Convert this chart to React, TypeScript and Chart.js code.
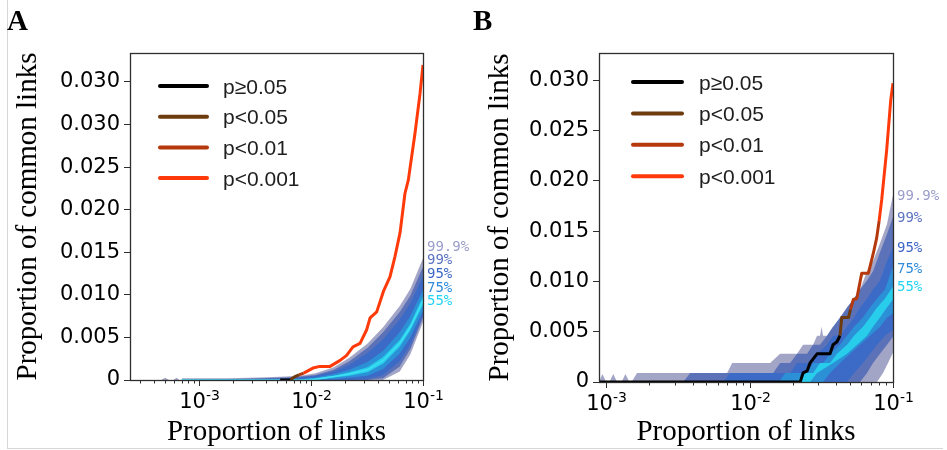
import React, { useEffect, useRef } from "react";
import { Chart, registerables } from "chart.js";

Chart.register(...registerables);

type Pt = [number, number];

// ---------------- Shared labels ----------------
const legendLabels = ["p\u22650.05", "p<0.05", "p<0.01", "p<0.001"];
const pctLabels = ["99.9%", "99%", "95%", "75%", "55%"];
const xTitle = "Proportion of links";
const yTitle = "Proportion of common links";

// ---------------- Panel A data ----------------
const aGridX = [0.0007, 0.0018, 0.0035, 0.006, 0.008, 0.011, 0.016, 0.022, 0.032, 0.044, 0.062, 0.077, 0.1];
const aUp999 = [0.0002, 0.0002, 0.0003, 0.0004, 0.0005, 0.0008, 0.0015, 0.0026, 0.0043, 0.0062, 0.0087, 0.0107, 0.0143];
const aLo999 = [0, 0, 0, 0, 0, 0, 0, 0, 0, 0, 0.001, 0.003, 0.0068];
const aUp99 = [0, 0.0001, 0.0002, 0.0003, 0.0004, 0.0006, 0.0012, 0.0022, 0.0038, 0.0056, 0.008, 0.0099, 0.0133];
const aLo99 = [0, 0, 0, 0, 0, 0, 0, 0, 0, 0.0002, 0.0016, 0.0036, 0.0073];
const aUp95 = [0, 0.0001, 0.0001, 0.0002, 0.0003, 0.0005, 0.001, 0.0018, 0.0032, 0.0048, 0.0071, 0.009, 0.0122];
const aLo95 = [0, 0, 0, 0, 0, 0, 0, 0, 0.0001, 0.0006, 0.0022, 0.0041, 0.0076];
const aUp75 = [0, 0, 0, 0.0001, 0.0001, 0.0003, 0.0007, 0.0012, 0.0021, 0.0034, 0.0056, 0.0075, 0.0106];
const aLo75 = [0, 0, 0, 0, 0, 0, 0.0001, 0.0003, 0.0005, 0.0013, 0.0031, 0.005, 0.0081];
const aUp55 = [0, 0, 0, 0, 0, 0.0002, 0.0005, 0.0009, 0.0015, 0.0027, 0.0047, 0.0066, 0.0098];
const aLo55 = [0, 0, 0, 0, 0, 0, 0.0003, 0.0005, 0.0009, 0.0019, 0.0039, 0.0058, 0.0088];
const aMedian = [0, 0, 0, 0, 0, 0.0001, 0.0004, 0.0007, 0.0012, 0.0023, 0.0043, 0.0062, 0.0093];
const aSpikes: Pt[] = [[0.00046, 0], [0.0005, 0.00025], [0.00054, 0], [0.00059, 0], [0.00063, 0.00025], [0.00067, 0]];

const aLineNS: Pt[] = [[0.0053, 0], [0.0065, 0]];
const aLine05: Pt[] = [[0.0065, 0], [0.0072, 0.0004], [0.0078, 0.0006]];
const aLine01: Pt[] = [[0.0078, 0.0006], [0.0086, 0.0008]];
const aLine001: Pt[] = [
  [0.0086, 0.0008], [0.0104, 0.0014], [0.012, 0.0016], [0.0148, 0.0016], [0.0182, 0.0023],
  [0.0208, 0.0029], [0.0237, 0.0039], [0.0274, 0.0043], [0.0314, 0.0059], [0.0337, 0.0073],
  [0.0386, 0.008], [0.0443, 0.0104], [0.0507, 0.0121], [0.0562, 0.0145], [0.0624, 0.0173],
  [0.069, 0.0219], [0.074, 0.0235], [0.0849, 0.029], [0.094, 0.0336], [0.1, 0.037],
];

const aYTicks = [0, 0.005, 0.01, 0.015, 0.02, 0.025, 0.03, 0.035];
const aYTickLabels = ["0", "0.005", "0.010", "0.015", "0.020", "0.025", "0.030", "0.030"];
const aPctY = [0.0156, 0.0141, 0.0124, 0.0108, 0.0092];

// ---------------- Panel B data ----------------
const bUp999: Pt[] = [
  [0.00089, 0], [0.00094, 0.0008], [0.001, 0], [0.00105, 0], [0.00112, 0.0008], [0.00119, 0],
  [0.00128, 0], [0.00136, 0.0008], [0.00145, 0], [0.0015, 0], [0.00164, 0.0009], [0.00697, 0.0009],
  [0.00755, 0.0019], [0.0139, 0.0019], [0.01632, 0.0028], [0.02143, 0.0028], [0.0236, 0.0037],
  [0.0277, 0.0037], [0.02954, 0.0046], [0.03098, 0.0046], [0.03175, 0.0055], [0.03252, 0.0046],
  [0.03467, 0.0046], [0.03818, 0.0055], [0.04268, 0.0055], [0.04779, 0.0074], [0.05349, 0.0083],
  [0.05889, 0.0092], [0.0659, 0.011], [0.07256, 0.012], [0.08117, 0.0138], [0.09082, 0.0157], [0.1, 0.0186],
];
const bLo999: Pt[] = [[0.00089, 0], [0.07737, 0], [0.08518, 0.0009], [0.0923, 0.0019], [0.1, 0.0029]];
const bUp99: Pt[] = [
  [0.00089, 0], [0.00344, 0], [0.00385, 0.0009], [0.01459, 0.0009], [0.01632, 0.0019], [0.01915, 0.0019],
  [0.02143, 0.0028], [0.02517, 0.0028], [0.0277, 0.0037], [0.03098, 0.0037], [0.03467, 0.0046],
  [0.03818, 0.0055], [0.04268, 0.0064], [0.04779, 0.0074], [0.05349, 0.0083], [0.05889, 0.0092],
  [0.0659, 0.0101], [0.07256, 0.011], [0.08117, 0.0129], [0.09082, 0.0147], [0.1, 0.0164],
];
const bLo99: Pt[] = [[0.00089, 0], [0.05889, 0], [0.0659, 0.0009], [0.07256, 0.0019], [0.08117, 0.0028], [0.09082, 0.0037], [0.1, 0.0045]];
const bUp95: Pt[] = [
  [0.00089, 0], [0.00654, 0], [0.00731, 0.0009], [0.01915, 0.0009], [0.02143, 0.0019], [0.02641, 0.0019],
  [0.02954, 0.0028], [0.03467, 0.0037], [0.03818, 0.0046], [0.04268, 0.0046], [0.04779, 0.0055],
  [0.05349, 0.0064], [0.05889, 0.0074], [0.0659, 0.0083], [0.07256, 0.0092], [0.08117, 0.0101],
  [0.09082, 0.012], [0.1, 0.0134],
];
const bLo95: Pt[] = [[0.00089, 0], [0.04779, 0], [0.05349, 0.0009], [0.06178, 0.0019], [0.06913, 0.0028], [0.07737, 0.0037], [0.08797, 0.0046], [0.1, 0.0052]];
const bUp75: Pt[] = [
  [0.00089, 0], [0.01605, 0], [0.01768, 0.0009], [0.02517, 0.0009], [0.0277, 0.0019], [0.03252, 0.0019],
  [0.03637, 0.0028], [0.04268, 0.0037], [0.04779, 0.0046], [0.05349, 0.0055], [0.06178, 0.0064],
  [0.06913, 0.0074], [0.07737, 0.0083], [0.08797, 0.0092], [0.1, 0.0115],
];
const bLo75: Pt[] = [
  [0.00089, 0], [0.03252, 0], [0.03637, 0.0009], [0.04268, 0.0019], [0.05015, 0.0028], [0.05889, 0.0037],
  [0.06913, 0.0046], [0.08117, 0.0055], [0.09082, 0.0064], [0.1, 0.0068],
];
const bUp55: Pt[] = [
  [0.00089, 0], [0.02143, 0], [0.0236, 0.0009], [0.0277, 0.0009], [0.03098, 0.0019], [0.03637, 0.0019],
  [0.04068, 0.0028], [0.04779, 0.0037], [0.05349, 0.0046], [0.06178, 0.0055], [0.06913, 0.0064],
  [0.07737, 0.0074], [0.08797, 0.0083], [0.1, 0.0095],
];
const bLo55: Pt[] = [
  [0.00089, 0], [0.02641, 0], [0.02954, 0.0009], [0.03818, 0.0019], [0.04779, 0.0028], [0.05613, 0.0037],
  [0.0659, 0.0046], [0.07256, 0.0055], [0.08117, 0.0064], [0.09082, 0.0074], [0.1, 0.0082],
];

const bLineNS: Pt[] = [
  [0.00089, 0], [0.02249, 0], [0.0236, 0.0009], [0.02517, 0.0011], [0.02641, 0.0019], [0.02954, 0.0028],
  [0.03637, 0.0028], [0.03818, 0.0037], [0.04068, 0.004], [0.04268, 0.0046],
];
const bLine05: Pt[] = [[0.04268, 0.0046], [0.0439, 0.0064], [0.0489, 0.0064], [0.0505, 0.0072]];
const bLine01: Pt[] = [
  [0.0505, 0.0072], [0.0529, 0.0082], [0.0559, 0.0083], [0.0605, 0.0108], [0.0673, 0.0108],
  [0.0729, 0.0128], [0.0769, 0.0143], [0.08, 0.016],
];
const bLine001: Pt[] = [[0.08, 0.016], [0.0834, 0.0181], [0.0904, 0.0231], [0.0964, 0.028], [0.1, 0.0297]];

const bYTicks = [0, 0.005, 0.01, 0.015, 0.02, 0.025, 0.03];
const bYTickLabels = ["0", "0.005", "0.010", "0.015", "0.020", "0.025", "0.030"];
const bPctY = [0.0185, 0.0163, 0.0133, 0.0112, 0.0094];

// ---------------- Styles ----------------
const BAND_COLORS = ["#a3a5c7", "#5b72b9", "#3b6bc7", "#2c90d7", "#27cdea"];
const PCT_COLORS = ["#9a9cca", "#5a72bf", "#3b65c4", "#2f8bd9", "#22d3f2"];
const LINE_COLORS = ["#000000", "#6e3b0e", "#b5390d", "#ff3a0a"];

const zipXY = (xs: number[], ys: number[]) => xs.map((x, i) => ({ x, y: ys[i] }));
const toXY = (pts: Pt[]) => pts.map(([x, y]) => ({ x, y }));

interface PanelCfg {
  left: number;
  width: number;
  xMin: number;
  yMax: number;
  yTicks: number[];
  yTickLabels: string[];
  bands: { upper: { x: number; y: number }[]; lower: { x: number; y: number }[] }[];
  spikes: { x: number; y: number }[] | null;
  median: { x: number; y: number }[] | null;
  lines: { x: number; y: number }[][];
  pctY: number[];
  padTop: number;
  padRight: number;
  yAxisWidth: number;
  xAxisHeight: number;
  yTitlePad: number;
  legend: { x0: number; x1: number; tx: number; y0: number; dy: number };
}

const panelA: PanelCfg = {
  left: 0,
  width: 470,
  xMin: 0.000242,
  yMax: 0.0384,
  yTicks: aYTicks,
  yTickLabels: aYTickLabels,
  bands: [
    { upper: zipXY(aGridX, aUp999), lower: zipXY(aGridX, aLo999) },
    { upper: zipXY(aGridX, aUp99), lower: zipXY(aGridX, aLo99) },
    { upper: zipXY(aGridX, aUp95), lower: zipXY(aGridX, aLo95) },
    { upper: zipXY(aGridX, aUp75), lower: zipXY(aGridX, aLo75) },
    { upper: zipXY(aGridX, aUp55), lower: zipXY(aGridX, aLo55) },
  ],
  spikes: toXY(aSpikes),
  median: zipXY(aGridX, aMedian),
  lines: [toXY(aLineNS), toXY(aLine05), toXY(aLine01), toXY(aLine001)],
  pctY: aPctY,
  padTop: 53,
  padRight: 47,
  yAxisWidth: 130,
  xAxisHeight: 70,
  yTitlePad: 10.6,
  legend: { x0: 30, x1: 77, tx: 93, y0: 33, dy: 30.7 },
};

const panelB: PanelCfg = {
  left: 470,
  width: 477,
  xMin: 0.00089,
  yMax: 0.0327,
  yTicks: bYTicks,
  yTickLabels: bYTickLabels,
  bands: [
    { upper: toXY(bUp999), lower: toXY(bLo999) },
    { upper: toXY(bUp99), lower: toXY(bLo99) },
    { upper: toXY(bUp95), lower: toXY(bLo95) },
    { upper: toXY(bUp75), lower: toXY(bLo75) },
    { upper: toXY(bUp55), lower: toXY(bLo55) },
  ],
  spikes: null,
  median: null,
  lines: [toXY(bLineNS), toXY(bLine05), toXY(bLine01), toXY(bLine001)],
  pctY: bPctY,
  padTop: 53,
  padRight: 54,
  yAxisWidth: 129,
  xAxisHeight: 68,
  yTitlePad: 12.6,
  legend: { x0: 34, x1: 83, tx: 100, y0: 29, dy: 31.4 },
};

function makeOverlay(cfg: PanelCfg) {
  return {
    id: "overlay",
    afterDraw(chart: any) {
      const ctx: CanvasRenderingContext2D = chart.ctx;
      const { left, right, top, bottom } = chart.chartArea;
      const xs = chart.scales.x;
      const ys = chart.scales.y;
      ctx.save();
      // plot frame
      ctx.strokeStyle = "#2e2e2e";
      ctx.lineWidth = 1.3;
      ctx.strokeRect(Math.round(left) + 0.5, Math.round(top) + 0.5, Math.round(right - left), Math.round(bottom - top));

      // x ticks (major & minor) and labels
      ctx.lineWidth = 1;
      for (const t of xs.ticks) {
        const v = t.value;
        if (!(v > 0)) continue;
        const e = Math.floor(Math.log10(v) + 1e-9);
        const s = v / Math.pow(10, e);
        if (Math.abs(s - Math.round(s)) > 1e-6) continue;
        const major = Math.round(s) === 1 || Math.round(s) === 10;
        const px = Math.round(xs.getPixelForValue(v)) + 0.5;
        if (px < left - 1 || px > right + 1) continue;
        ctx.beginPath();
        ctx.moveTo(px, bottom);
        ctx.lineTo(px, bottom + (major ? 6 : 3.5));
        ctx.stroke();
        if (major) {
          const exp = String(Math.round(Math.log10(v)));
          ctx.fillStyle = "#000";
          ctx.textBaseline = "alphabetic";
          ctx.textAlign = "left";
          ctx.font = '21px "DejaVu Sans"';
          const wb = ctx.measureText("10").width;
          ctx.font = '14px "DejaVu Sans"';
          const we = ctx.measureText(exp).width;
          const x0 = px - (wb + we) / 2;
          ctx.font = '21px "DejaVu Sans"';
          ctx.fillText("10", x0, bottom + 28);
          ctx.font = '14px "DejaVu Sans"';
          ctx.fillText(exp, x0 + wb, bottom + 20);
        }
      }

      // legend
      const lg = cfg.legend;
      ctx.font = '21px "Liberation Sans"';
      ctx.textAlign = "left";
      ctx.textBaseline = "alphabetic";
      legendLabels.forEach((lab, i) => {
        const y = top + lg.y0 + i * lg.dy;
        ctx.strokeStyle = LINE_COLORS[i];
        ctx.lineWidth = 4;
        ctx.lineCap = "round";
        ctx.beginPath();
        ctx.moveTo(left + lg.x0, y);
        ctx.lineTo(left + lg.x1, y);
        ctx.stroke();
        ctx.fillStyle = "#1e1e1e";
        ctx.fillText(lab, left + lg.tx, y + 7.5);
      });

      // percentile labels
      ctx.font = '14px "DejaVu Sans Mono"';
      ctx.textBaseline = "middle";
      pctLabels.forEach((lab, i) => {
        ctx.fillStyle = PCT_COLORS[i];
        ctx.fillText(lab, right + 4, ys.getPixelForValue(cfg.pctY[i]));
      });
      ctx.restore();
    },
  };
}

function Panel({ cfg }: { cfg: PanelCfg }) {
  const ref = useRef<HTMLCanvasElement | null>(null);
  useEffect(() => {
    if (!ref.current) return;
    const datasets: any[] = [];
    cfg.bands.forEach((b, k) => {
      const idx = datasets.length;
      const common = {
        pointRadius: 0,
        borderWidth: 0,
        borderColor: "rgba(0,0,0,0)",
        tension: 0,
        order: 20 - k,
      };
      datasets.push({ ...common, data: b.upper, fill: idx + 1, backgroundColor: BAND_COLORS[k] });
      datasets.push({ ...common, data: b.lower, fill: false, backgroundColor: "rgba(0,0,0,0)" });
    });
    if (cfg.spikes) {
      datasets.push({
        data: cfg.spikes,
        pointRadius: 0,
        borderWidth: 0,
        borderColor: "rgba(0,0,0,0)",
        fill: "origin",
        backgroundColor: BAND_COLORS[0],
        order: 20,
      });
    }
    if (cfg.median) {
      datasets.push({
        data: cfg.median,
        borderColor: "#3ee0f4",
        borderWidth: 1.5,
        pointRadius: 0,
        fill: false,
        order: 5,
      });
    }
    cfg.lines.forEach((ln, i) => {
      datasets.push({
        data: ln,
        borderColor: LINE_COLORS[i],
        borderWidth: 3,
        pointRadius: 0,
        fill: false,
        borderJoinStyle: "round",
        order: 1,
      });
    });

    const chart = new Chart(ref.current, {
      type: "line",
      data: { datasets },
      options: {
        animation: false,
        responsive: false,
        maintainAspectRatio: false,
        events: [],
        layout: { padding: { top: cfg.padTop, right: cfg.padRight, left: 0, bottom: 0 } },
        plugins: { legend: { display: false }, tooltip: { enabled: false } },
        scales: {
          x: {
            type: "logarithmic",
            min: cfg.xMin,
            max: 0.1,
            ticks: { display: false },
            grid: { display: false },
            border: { display: false },
            title: {
              display: true,
              text: xTitle,
              color: "#000",
              font: { family: "Liberation Serif", size: 29 },
              padding: 0,
            },
            afterFit: (s: any) => {
              s.height = cfg.xAxisHeight;
            },
          },
          y: {
            type: "linear",
            min: 0,
            max: cfg.yMax,
            afterBuildTicks: (s: any) => {
              s.ticks = cfg.yTicks.map((v) => ({ value: v }));
            },
            ticks: {
              callback: (_v: any, i: number) => cfg.yTickLabels[i],
              color: "#000",
              font: { family: "DejaVu Sans", size: 21 },
              padding: 4,
              autoSkip: false,
            },
            grid: { drawOnChartArea: false, tickLength: 6, tickColor: "#2e2e2e", tickWidth: 1 },
            border: { display: false },
            title: {
              display: true,
              text: yTitle,
              color: "#000",
              font: { family: "Liberation Serif", size: 29 },
              padding: { top: cfg.yTitlePad, bottom: 0 },
            },
            afterFit: (s: any) => {
              s.width = cfg.yAxisWidth;
            },
          },
        },
      } as any,
      plugins: [makeOverlay(cfg)],
    });
    return () => chart.destroy();
  }, [cfg]);
  return (
    <canvas
      ref={ref}
      width={cfg.width}
      height={450}
      style={{ position: "absolute", left: cfg.left, top: 0, width: cfg.width, height: 450 }}
    />
  );
}

export default function App() {
  const letter: React.CSSProperties = {
    position: "absolute",
    top: 6,
    fontFamily: '"Liberation Serif", serif',
    fontWeight: "bold",
    fontSize: 29,
    lineHeight: 1,
    color: "#000",
  };
  return (
    <div style={{ position: "fixed", left: 0, top: 0, width: 947, height: 450, background: "#fff", overflow: "hidden" }}>
      <div style={{ position: "absolute", left: 7, top: 0, width: 1, height: 448, background: "#d6d6d6" }} />
      <div style={{ position: "absolute", left: 7, top: 448, width: 936, height: 1, background: "#d6d6d6" }} />
      <Panel cfg={panelA} />
      <Panel cfg={panelB} />
      <div style={{ ...letter, left: 7 }}>A</div>
      <div style={{ ...letter, left: 473 }}>B</div>
    </div>
  );
}
